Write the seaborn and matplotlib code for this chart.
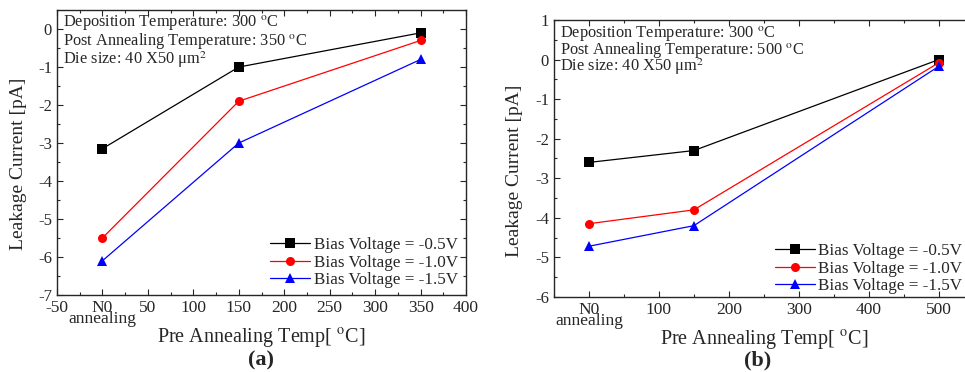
import pandas as pd
import seaborn as sns
import matplotlib.pyplot as plt
from matplotlib.ticker import MultipleLocator

# pre annealing temperature (0 = no annealing)
temps_a = [0, 150, 350]
temps_b = [0, 150, 500]
biases = ['Bias Voltage = -0.5V', 'Bias Voltage = -1.0V', 'Bias Voltage = -1.5V']

# leakage current [pA], post annealing 350 C
leak_a_05 = [-3.15, -1.0, -0.1]
leak_a_10 = [-5.5, -1.9, -0.3]
leak_a_15 = [-6.1, -3.0, -0.8]

# leakage current [pA], post annealing 500 C
leak_b_05 = [-2.6, -2.3, 0.0]
leak_b_10 = [-4.15, -3.8, -0.08]
leak_b_15 = [-4.72, -4.2, -0.17]

sns.set_style('ticks')
plt.rcParams['font.family'] = ['Liberation Serif', 'DejaVu Serif']
plt.rcParams['mathtext.fontset'] = 'stix'
plt.rcParams['axes.unicode_minus'] = False
plt.rcParams['xtick.direction'] = 'in'
plt.rcParams['ytick.direction'] = 'in'


def make_df(temps, series):
    rows = []
    for b, vals in zip(biases, series):
        for t, v in zip(temps, vals):
            rows.append({'temp': t, 'current': v, 'bias': b})
    return pd.DataFrame(rows)


df_a = make_df(temps_a, [leak_a_05, leak_a_10, leak_a_15])
df_b = make_df(temps_b, [leak_b_05, leak_b_10, leak_b_15])

fig = plt.figure(figsize=(9.65, 3.72), dpi=100)
ax1 = fig.add_axes([0.059, 0.207, 0.424, 0.766])
ax2 = fig.add_axes([0.574, 0.202, 0.435, 0.744])

pal = ['black', 'red', 'blue']


def draw(ax, df, post, xlim, ylim, xmin, xticks, xlabels, leg_anchor, txt_ys, ylab_xy):
    sns.lineplot(data=df, x='temp', y='current', hue='bias', style='bias',
                 markers=['s', 'o', '^'], dashes=False, palette=pal,
                 markersize=6.5, markeredgewidth=0, linewidth=0.9, ax=ax)
    ax.set_xlim(*xlim)
    ax.set_ylim(*ylim)
    ax.set_xticks(xticks)
    ax.set_xticklabels(xlabels, fontsize=12.5, linespacing=0.6)
    ax.xaxis.set_minor_locator(MultipleLocator(xmin))
    ax.yaxis.set_major_locator(MultipleLocator(1))
    ax.yaxis.set_minor_locator(MultipleLocator(0.5))
    ax.tick_params(axis='y', labelsize=12)
    ax.tick_params(which='both', top=True, right=True, width=0.8)
    ax.tick_params(which='major', length=4)
    ax.tick_params(which='minor', length=2.5)
    for s in ax.spines.values():
        s.set_linewidth(1.0)
    ax.set_xlabel('Pre Annealing Temp[ $^{\\mathrm{o}}$C]', fontsize=14.5, labelpad=0)
    ax.set_ylabel('Leakage Current [pA]', fontsize=14)
    ax.yaxis.set_label_coords(*ylab_xy)
    lines = ['Deposition Temperature: 300 $^{\\mathrm{o}}$C',
             'Post Annealing Temperature: ' + post + ' $^{\\mathrm{o}}$C',
             'Die size: 40 X50 \u03bcm$^{2}$']
    for line, y in zip(lines, txt_ys):
        ax.text(0.015, y, line, transform=ax.transAxes, ha='left',
                va='center', fontsize=11.8)
    ax.legend(loc='lower left', bbox_to_anchor=leg_anchor, frameon=False,
              fontsize=12.3, handlelength=2.35, handletextpad=0.2,
              labelspacing=0.1, borderaxespad=0.0, borderpad=0.0)


draw(ax1, df_a, '350', (-50, 400), (-7, 0.5), 25,
     [-50, 0, 50, 100, 150, 200, 250, 300, 350, 400],
     ['-50', 'N0\nannealing', '50', '100', '150', '200', '250', '300', '350', '400'],
     (0.521, 0.023), [0.955, 0.89, 0.827], (-0.072, 0.46))
draw(ax2, df_b, '500', (-50, 550), (-6, 1), 50,
     [0, 100, 200, 300, 400, 500],
     ['N0\nannealing', '100', '200', '300', '400', '500'],
     (0.526, 0.009), [0.95, 0.892, 0.83], (-0.074, 0.455))

fig.text(0.27, 0.003, '(a)', fontsize=16, fontweight='bold', ha='center', va='bottom')
fig.text(0.785, 0.003, '(b)', fontsize=16, fontweight='bold', ha='center', va='bottom')

fig.savefig('out.png', dpi=100)
